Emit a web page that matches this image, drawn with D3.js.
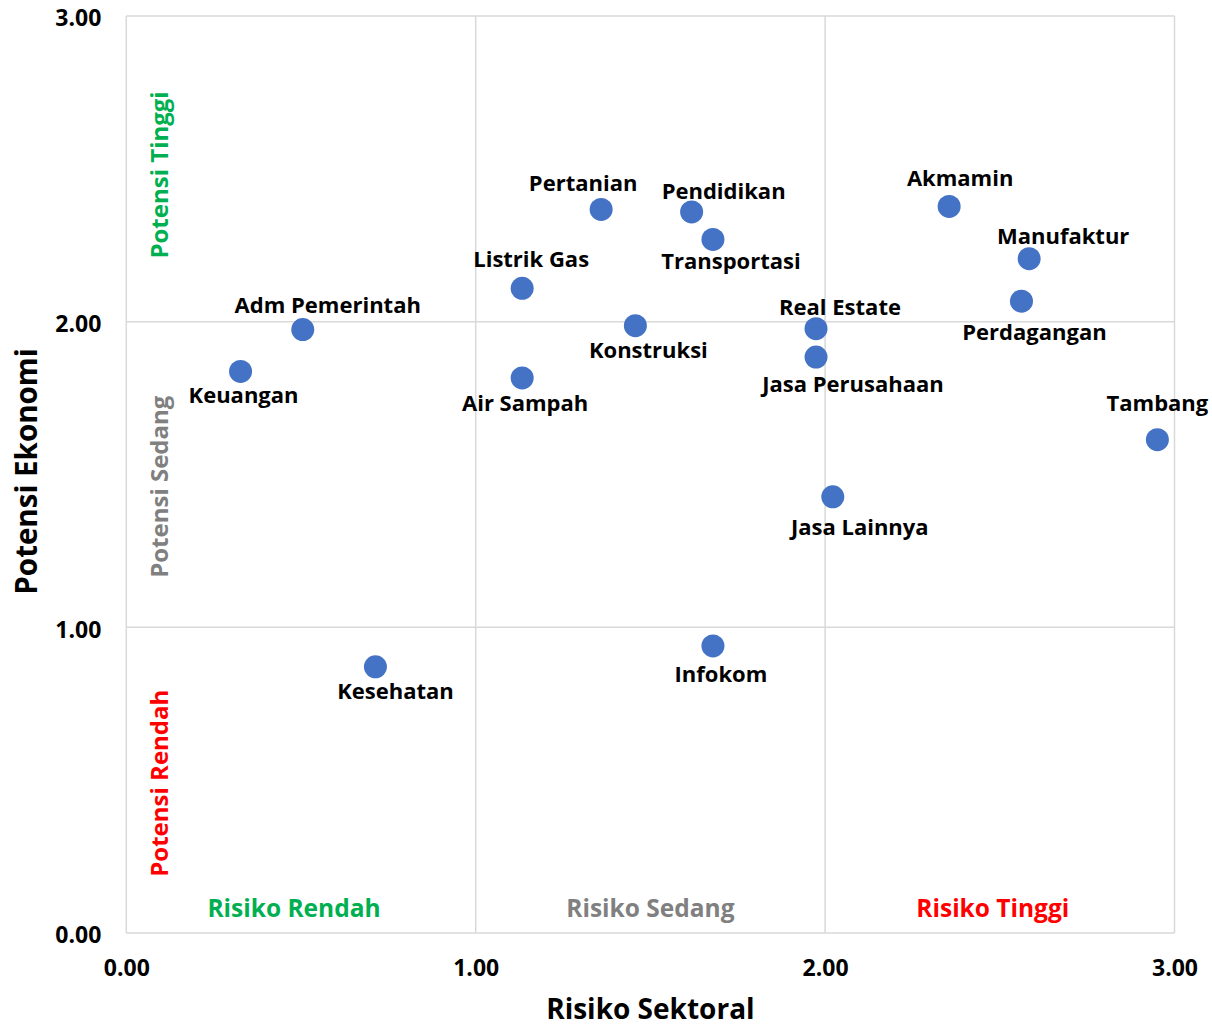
<!DOCTYPE html>
<html>
<head>
<meta charset="utf-8">
<script src="https://cdn.jsdelivr.net/npm/d3@7"></script>
<style>
  html, body { margin: 0; padding: 0; background: #ffffff; }
  svg { display: block; font-family: "Open Sans", Lato, sans-serif; }
</style>
</head>
<body>
<div id="chart"></div>
<script>
// Sector names with their sectoral risk (x) and economic potential (y) scores
const sectors = ["Keuangan", "Adm Pemerintah", "Kesehatan", "Listrik Gas", "Air Sampah",
  "Pertanian", "Konstruksi", "Pendidikan", "Transportasi", "Infokom", "Real Estate",
  "Jasa Perusahaan", "Jasa Lainnya", "Akmamin", "Manufaktur", "Perdagangan", "Tambang"];
const risiko = [0.327, 0.505, 0.713, 1.133, 1.133, 1.359, 1.457, 1.618, 1.679, 1.679,
  1.974, 1.974, 2.022, 2.355, 2.584, 2.562, 2.951];
const potensi = [1.837, 1.974, 0.871, 2.109, 1.816, 2.367, 1.987, 2.359, 2.269, 0.939,
  1.977, 1.884, 1.427, 2.377, 2.206, 2.067, 1.614];

// Label offsets from each marker (pixels, text centre)
const labelDx = [3, 25, 20, 9, 3, -18, 13, 32, 18, 8, 24, 37, 27, 11, 34, 13, 0];
const labelDy = [23, -26, 23, -30, 24, -27, 23, -22, 21, 27, -23, 26, 29, -29, -24, 30, -38];

const ticks = [0, 1, 2, 3];
const tickLabels = ["0.00", "1.00", "2.00", "3.00"];

// Zone labels
const riskZones = ["Risiko Rendah", "Risiko Sedang", "Risiko Tinggi"];
const riskZoneCentre = [0.48, 1.5, 2.48];
const potZones = ["Potensi Tinggi", "Potensi Sedang", "Potensi Rendah"];
const potZoneCentre = [2.48, 1.46, 0.49];
const zoneColors = ["#00b050", "#808080", "#ff0000"];

const W = 1212, H = 1027;
const margin = { left: 126.3, right: W - 1174.5, top: 16, bottom: H - 933 };

const svg = d3.select("#chart").append("svg").attr("width", W).attr("height", H);

const x = d3.scaleLinear().domain([0, 3]).range([margin.left, W - margin.right]);
const y = d3.scaleLinear().domain([0, 3]).range([H - margin.bottom, margin.top]);

// Grid (includes plot frame at 0 and 3)
const grid = svg.append("g").attr("stroke", "#d9d9d9").attr("stroke-width", 1.5);
grid.selectAll("line.v").data(ticks).join("line").attr("class", "v")
  .attr("x1", d => x(d)).attr("x2", d => x(d))
  .attr("y1", y(0)).attr("y2", y(3));
grid.selectAll("line.h").data(ticks).join("line").attr("class", "h")
  .attr("x1", x(0)).attr("x2", x(3))
  .attr("y1", d => y(d)).attr("y2", d => y(d));

// Axes (labels only)
const xAxis = d3.axisBottom(x).tickValues(ticks).tickFormat((d, i) => tickLabels[i]).tickSize(0).tickPadding(27);
const yAxis = d3.axisLeft(y).tickValues(ticks).tickFormat((d, i) => tickLabels[i]).tickSize(0).tickPadding(25);

const gx = svg.append("g").attr("transform", `translate(0,${y(0)})`).call(xAxis);
const gy = svg.append("g").attr("transform", `translate(${x(0)},0)`).call(yAxis);
[gx, gy].forEach(g => {
  g.select(".domain").remove();
  g.selectAll("text").attr("font-family", "'Open Sans', sans-serif").attr("font-weight", "bold")
    .attr("font-size", 23).attr("fill", "#000");
});
gy.selectAll("text").attr("dy", "0.42em");

// Axis titles
svg.append("text").attr("x", x(1.5)).attr("y", 1019).attr("text-anchor", "middle")
  .attr("font-weight", "bold").attr("font-size", 28).text("Risiko Sektoral");
svg.append("text").attr("transform", `translate(37,${y(1.51)}) rotate(-90)`)
  .attr("text-anchor", "middle").attr("font-weight", "bold").attr("font-size", 29.5)
  .text("Potensi Ekonomi");

// Zone labels
svg.selectAll("text.rz").data(riskZones).join("text").attr("class", "rz")
  .attr("x", (d, i) => x(riskZoneCentre[i])).attr("y", 917)
  .attr("text-anchor", "middle").attr("font-weight", "bold").attr("font-size", 24.5)
  .attr("fill", (d, i) => zoneColors[i]).text(d => d);
svg.selectAll("text.pz").data(potZones).join("text").attr("class", "pz")
  .attr("transform", (d, i) => `translate(168,${y(potZoneCentre[i])}) rotate(-90)`)
  .attr("text-anchor", "middle").attr("font-weight", "bold").attr("font-size", 24)
  .attr("fill", (d, i) => zoneColors[i]).text(d => d);

// Points
const data = sectors.map((s, i) => ({ name: s, rx: risiko[i], py: potensi[i], dx: labelDx[i], dy: labelDy[i] }));

svg.append("g").selectAll("circle").data(data).join("circle")
  .attr("cx", d => x(d.rx)).attr("cy", d => y(d.py)).attr("r", 11.5)
  .attr("fill", "#4472c4");

svg.append("g").selectAll("text").data(data).join("text")
  .attr("x", d => x(d.rx) + d.dx).attr("y", d => y(d.py) + d.dy)
  .attr("text-anchor", "middle").attr("dominant-baseline", "central")
  .attr("font-weight", "bold").attr("font-size", 22).attr("fill", "#000")
  .text(d => d.name);
</script>
</body>
</html>
